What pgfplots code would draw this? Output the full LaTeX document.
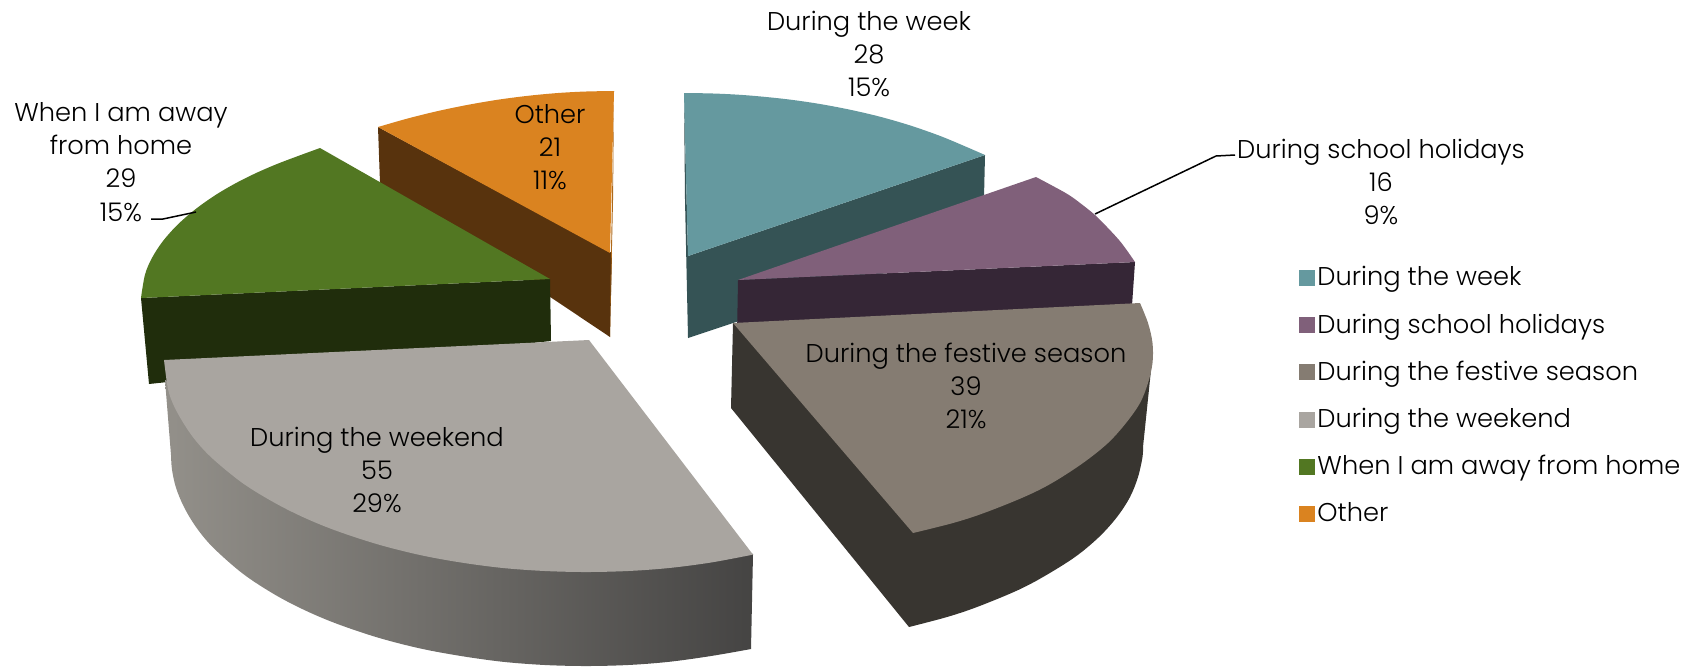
\documentclass[border=0pt]{standalone}
\usepackage{pgfplots}
\usepackage{fontspec}
\pgfplotsset{compat=1.18}
\setmainfont{Poppins}[UprightFont=* Light]
\definecolor{weekT}{HTML}{65999F}
\definecolor{weekS}{HTML}{355355}
\definecolor{schoolT}{HTML}{80607A}
\definecolor{schoolS}{HTML}{352636}
\definecolor{festT}{HTML}{857C72}
\definecolor{festS}{HTML}{383530}
\definecolor{wkndT}{HTML}{A9A5A0}
\definecolor{wkndL}{HTML}{93908A}
\definecolor{wkndM}{HTML}{7A7772}
\definecolor{wkndR}{HTML}{454443}
\definecolor{awayT}{HTML}{527722}
\definecolor{awayS}{HTML}{202D0C}
\definecolor{otherT}{HTML}{DA8320}
\definecolor{otherS}{HTML}{58330D}
\newcommand{\lab}{\fontsize{12.85}{16.6}\selectfont}
\begin{document}
\begin{tikzpicture}
\useasboundingbox (0,0) rectangle (853pt,333pt);
\begin{axis}[
    scale only axis,
    width=853pt,
    height=333pt,
    xmin=0, xmax=1706,
    ymin=0, ymax=666,
    y dir=reverse,
    hide axis,
    clip=false,
    smooth,
    tension=0.55,
    legend cell align=left,
    legend image code/.code={\fill[#1] (0pt,-3.8pt) rectangle (7.5pt,3.7pt);},
    legend style={draw=none,fill=none,font=\lab,at={(0.761,0.605)},anchor=north west,
        row sep=9.45pt,inner sep=0pt,nodes={inner sep=1.5pt}},
]
% Other
\addplot[sharp plot,fill=otherS,draw=none,forget plot] coordinates {(378,127) (380,183) (610,337) (612,253)} -- cycle;
\addplot[sharp plot,fill=otherT!80!black,draw=none,forget plot] coordinates {(614,91) (611,253) (610,337) (613,200)} -- cycle;
\addplot[fill=otherT,draw=none,forget plot] coordinates {(378,127) (408,118.4) (438,111) (468,104.8) (498,99.7) (528,95.8) (558,93) (586,91.5) (614,91)} -- (axis cs:610,253) -- cycle;

% When I am away from home
\addplot[sharp plot,fill=awayS,draw=none,forget plot] coordinates {(141,298) (149,384) (551,341) (550,279)} -- cycle;
\addplot[fill=awayT,draw=none,forget plot] coordinates {(320,148) (300,155.3) (278,163.6) (257,172.6) (237,182.5) (216,194.7) (196,208.8) (178,224.3) (163,241) (152,257.9) (145,274.6) (141,298)} -- (axis cs:550,279) -- cycle;

% During the weekend
\addplot[draw=none,forget plot,left color=wkndL,middle color=wkndM,right color=wkndR] coordinates
    {(751,649) (711,656) (669,661.8) (628,665) (586,666) (545,665) (503,661.8) (461,656) (420,648.4) (378,637.6) (337,623.8) (305,610.3) (275,594.7) (243,573.8) (213,547.4) (196,527) (184,507) (176,487.7) (172,469.6) (171,455)} -- (axis cs:165,380) -- (axis cs:586,500) -- (axis cs:753,554) -- cycle;
\addplot[fill=wkndT,draw=none,forget plot] coordinates
    {(753,554.6) (711,562.5) (669,568) (628,571) (586,572) (545,571) (503,568) (461,562.5) (420,555) (378,544.4) (337,531) (305,518) (275,503) (243,483.4) (213,459) (196,441) (184,424) (174,406) (168,389) (164,360)} -- (axis cs:589,340) -- cycle;

% During the week
\addplot[sharp plot,fill=weekS,draw=none,forget plot] coordinates {(688,256) (985,155) (983,240) (688,338)} -- cycle;
\addplot[sharp plot,fill=weekS,draw=none,forget plot] coordinates {(684,93) (688,256) (688,338) (685,200)} -- cycle;
\addplot[fill=weekT,draw=none,forget plot] coordinates {(684,93) (710,93.4) (735,94.5) (760,96.4) (790,99.6) (820,104) (850,109.7) (880,116.7) (910,125.4) (940,135.9) (965,146.3) (985,155)} -- (axis cs:688,256) -- cycle;

% During school holidays
\addplot[sharp plot,fill=schoolS,draw=none,forget plot] coordinates {(738,280) (1135,262) (1131,320) (737,335)} -- cycle;
\addplot[fill=schoolT,draw=none,forget plot] coordinates {(1036,177) (1052,185.5) (1069,195) (1082,204.5) (1095,215) (1107,227) (1119,240) (1127,250.5) (1135,262)} -- (axis cs:738,280) -- cycle;

% During the festive season
\addplot[fill=festS,draw=none,forget plot] coordinates
    {(909,627) (947,617) (977,607) (1016,591) (1043,577) (1075,557) (1099,537) (1117,517) (1130,497) (1138,477) (1142.5,457) (1143,447)} -- (axis cs:1151,370) -- (axis cs:733,323) -- (axis cs:731,408) -- cycle;
\addplot[fill=festT,draw=none,forget plot] coordinates
    {(1140,303) (1148,323) (1152.5,343) (1152.5,363) (1148,383) (1140,403) (1126,423) (1108,443) (1083,463) (1052,483) (1024,497) (984,513) (953,523) (913,533)} -- (axis cs:733,323) -- cycle;

% leader lines
\addplot[sharp plot,black,line width=0.75pt,forget plot] coordinates {(1095,214) (1216,156) (1235,155)};
\addplot[sharp plot,black,line width=0.75pt,forget plot] coordinates {(196,212) (163,219) (151,219)};

% data labels
\node[align=center,font=\lab] at (axis cs:869,54) {During the week\\28\\15\%};
\node[align=center,font=\lab] at (axis cs:1381,182) {During school holidays\\16\\9\%};
\node[align=center,font=\lab] at (axis cs:966,386) {During the festive season\\39\\21\%};
\node[align=center,font=\lab] at (axis cs:377,470) {During the weekend\\55\\29\%};
\node[align=center,font=\lab] at (axis cs:121,162) {When I am away\\from home\\29\\15\%};
\node[align=center,font=\lab] at (axis cs:550,147) {Other\\21\\11\%};

\addlegendimage{weekT}\addlegendentry{During the week}
\addlegendimage{schoolT}\addlegendentry{During school holidays}
\addlegendimage{festT}\addlegendentry{During the festive season}
\addlegendimage{wkndT}\addlegendentry{During the weekend}
\addlegendimage{awayT}\addlegendentry{When I am away from home}
\addlegendimage{otherT}\addlegendentry{Other}
\end{axis}
\end{tikzpicture}
\end{document}
